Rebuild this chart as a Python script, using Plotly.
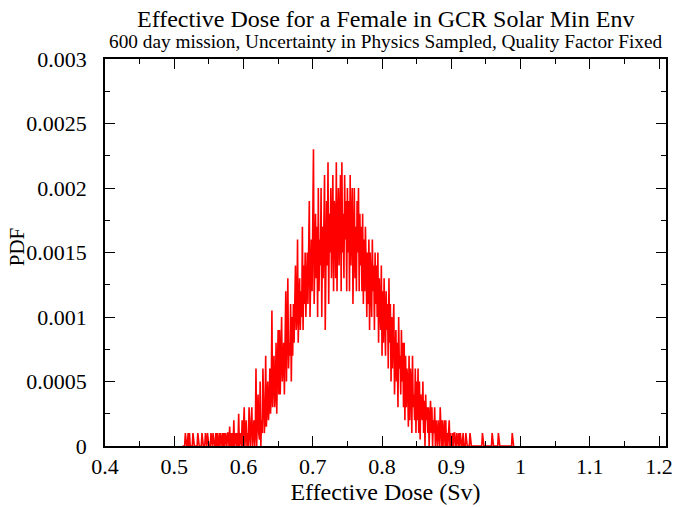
import plotly.graph_objects as go

# Bin centres (Sv), 0.001 Sv apart, and PDF values
dose = [round(0.512 + 0.001 * i, 3) for i in range(480)]
pdf = [
    # 0.512 - 0.531
    0, 0, 0, 0, 1e-4, 0, 0, 0, 1e-4, 0, 1e-4, 0, 0, 0, 0, 1e-4, 0, 0, 0, 0,
    # 0.532 - 0.551
    0, 0, 1e-4, 0, 0, 0, 0, 0, 1e-4, 0, 0, 0, 0, 1e-4, 0, 0, 1e-4, 0, 0, 0,
    # 0.552 - 0.571
    0, 1e-4, 0, 0, 1e-4, 0, 0, 0, 1e-4, 0, 1e-4, 0, 0, 1e-4, 0, 1e-4, 0, 0, 1e-4, 0,
    # 0.572 - 0.591
    1e-4, 0, 1e-4, 0, 0, 1e-4, 1e-4, 0, 1.5e-4, 0, 1e-4, 0, 1e-4, 0, 2e-4, 0, 1e-4, 1e-4, 0, 1e-4,
    # 0.592 - 0.611
    0, 2.5e-4, 0, 1e-4, 1e-4, 0, 2e-4, 0, 1e-4, 3e-4, 0, 1e-4, 2e-4, 0, 1e-4, 0, 3e-4, 1e-4, 0, 2e-4,
    # 0.612 - 0.631
    3e-4, 0, 1e-4, 2e-4, 0, 1e-4, 6e-4, 0, 2e-4, 4e-4, 1e-4, 0.5e-4, 5e-4, 0, 2e-4, 1e-4, 6e-4, 3e-4, 1e-4, 2e-4,
    # 0.632 - 0.651
    7e-4, 1.5e-4, 4e-4, 5e-4, 2e-4, 3e-4, 6e-4, 2.5e-4, 4e-4, 10.5e-4, 3e-4, 5e-4, 7e-4, 3e-4, 4e-4, 8e-4, 2.5e-4, 6e-4, 9e-4, 4e-4,
    # 0.652 - 0.671
    9e-4, 4e-4, 7e-4, 10e-4, 5e-4, 6e-4, 8e-4, 4e-4, 7e-4, 12e-4, 5e-4, 9e-4, 13e-4, 6e-4, 8e-4, 7e-4, 11e-4, 5e-4, 10e-4, 7e-4,
    # 0.672 - 0.691
    11e-4, 8e-4, 12e-4, 14e-4, 9e-4, 10e-4, 16e-4, 8e-4, 11e-4, 13e-4, 9e-4, 12e-4, 10e-4, 17e-4, 9e-4, 14e-4, 11e-4, 15e-4, 10e-4, 13e-4,
    # 0.692 - 0.711
    15e-4, 11e-4, 17e-4, 19e-4, 10e-4, 14e-4, 16e-4, 12e-4, 18e-4, 23e-4, 11e-4, 15e-4, 18e-4, 13e-4, 17e-4, 10e-4, 20e-4, 12e-4, 16e-4, 14e-4,
    # 0.712 - 0.731
    20e-4, 10e-4, 17e-4, 13e-4, 19e-4, 21e-4, 9e-4, 16e-4, 19e-4, 14e-4, 22e-4, 11e-4, 18e-4, 15e-4, 20e-4, 13e-4, 17e-4, 21e-4, 12e-4, 19e-4,
    # 0.732 - 0.751
    18e-4, 13e-4, 22e-4, 12e-4, 17e-4, 20e-4, 14e-4, 19e-4, 21e-4, 12e-4, 22e-4, 15e-4, 18e-4, 13e-4, 21e-4, 16e-4, 19e-4, 12e-4, 20e-4, 15e-4,
    # 0.752 - 0.771
    19e-4, 12e-4, 21e-4, 14e-4, 18e-4, 20e-4, 11e-4, 17e-4, 20e-4, 13e-4, 17e-4, 12e-4, 19e-4, 15e-4, 20e-4, 12e-4, 18e-4, 14e-4, 17e-4, 12e-4,
    # 0.772 - 0.791
    18e-4, 11e-4, 16e-4, 12e-4, 17e-4, 14e-4, 10e-4, 15e-4, 11e-4, 16e-4, 9e-4, 15e-4, 13e-4, 10e-4, 16e-4, 12e-4, 14e-4, 9e-4, 15e-4, 11e-4,
    # 0.792 - 0.811
    14e-4, 10e-4, 15e-4, 8e-4, 13e-4, 11e-4, 9e-4, 14e-4, 7e-4, 12e-4, 8e-4, 13e-4, 10e-4, 7e-4, 12e-4, 9e-4, 11e-4, 6e-4, 13e-4, 8e-4,
    # 0.812 - 0.831
    11e-4, 5e-4, 10e-4, 6e-4, 9e-4, 11e-4, 4e-4, 8e-4, 9e-4, 5e-4, 8e-4, 3e-4, 10e-4, 6e-4, 7e-4, 4e-4, 9e-4, 5e-4, 8e-4, 3e-4,
    # 0.832 - 0.851
    8e-4, 2e-4, 7e-4, 3e-4, 6e-4, 5e-4, 1.5e-4, 7e-4, 2e-4, 6e-4, 5e-4, 1e-4, 7e-4, 3e-4, 4e-4, 2e-4, 6e-4, 1e-4, 5e-4, 2e-4,
    # 0.852 - 0.871
    6e-4, 1e-4, 5e-4, 0.5e-4, 4e-4, 3e-4, 2e-4, 5e-4, 1e-4, 3.5e-4, 0, 4e-4, 2e-4, 3e-4, 1e-4, 3e-4, 0, 2e-4, 3.5e-4, 1e-4,
    # 0.872 - 0.891
    3e-4, 0, 2e-4, 1e-4, 3e-4, 0, 2e-4, 1e-4, 0, 2e-4, 1e-4, 0, 3e-4, 1e-4, 0, 2e-4, 0, 1e-4, 2e-4, 0,
    # 0.892 - 0.911
    2e-4, 0, 1e-4, 0, 1e-4, 2e-4, 0, 1e-4, 0, 0, 1e-4, 0, 1e-4, 1e-4, 0, 0, 1e-4, 0, 0, 1e-4,
    # 0.912 - 0.931
    0, 1e-4, 0, 0, 0, 1e-4, 0, 0, 0, 1e-4, 0, 0, 0, 0, 0, 1e-4, 0, 0, 0, 0,
    # 0.932 - 0.951
    0, 0, 0, 0, 0, 0, 0, 0, 0, 0, 0, 0, 0, 1e-4, 0, 0, 0, 0, 0, 0,
    # 0.952 - 0.971
    0, 0, 0, 0, 0, 0, 0, 1e-4, 0, 0, 0, 0, 0, 0, 0, 0, 1e-4, 0, 0, 0,
    # 0.972 - 0.991
    0, 0, 0, 0, 0, 0, 0, 0, 0, 0, 0, 0, 0, 0, 0, 0, 1e-4, 0, 0, 0,
]

x_tick_vals = [0.4, 0.5, 0.6, 0.7, 0.8, 0.9, 1.0, 1.1, 1.2]
x_tick_text = ["0.4", "0.5", "0.6", "0.7", "0.8", "0.9", "1", "1.1", "1.2"]
y_tick_vals = [0, 0.0005, 0.001, 0.0015, 0.002, 0.0025, 0.003]
y_tick_text = ["0", "0.0005", "0.001", "0.0015", "0.002", "0.0025", "0.003"]

title_text = "Effective Dose for a Female in GCR Solar Min Env"
subtitle_text = "600 day mission, Uncertainty in Physics Sampled, Quality Factor Fixed"
x_title = "Effective Dose (Sv)"
y_title = "PDF"

FONT = "Liberation Serif, Times New Roman, serif"

fig = go.Figure()
fig.add_trace(go.Scatter(
    x=dose, y=pdf, mode="lines",
    line=dict(color="#ff0000", width=1.6),
    showlegend=False, hoverinfo="skip",
))

axis_common = dict(
    showgrid=False, zeroline=False,
    showline=True, linecolor="black", linewidth=1.5,
    mirror="allticks", ticks="inside", ticklen=10, tickwidth=1, tickcolor="black",
    tickfont=dict(family=FONT, size=22, color="black"),
)

fig.update_layout(
    width=684, height=507,
    margin=dict(l=105, r=11, t=59, b=49),
    paper_bgcolor="white", plot_bgcolor="white",
    font=dict(family=FONT, color="black"),
    xaxis=dict(
        range=[0.4, 1.21], tickmode="array", tickvals=x_tick_vals, ticktext=x_tick_text,
        minor=dict(dtick=0.05, ticks="inside", ticklen=5, tickcolor="black", tickwidth=1),
        title=dict(text=x_title, font=dict(family=FONT, size=24), standoff=0),
        **axis_common,
    ),
    yaxis=dict(
        range=[0, 0.003], tickmode="array", tickvals=y_tick_vals, ticktext=y_tick_text,
        minor=dict(dtick=0.00025, ticks="inside", ticklen=5, tickcolor="black", tickwidth=1),
        ticklabelstandoff=12,
        **axis_common,
    ),
)

plot_w = 684 - 105 - 11
plot_h = 507 - 59 - 49
fig.add_annotation(text=title_text, x=0.5, y=1 + (59 - 18) / plot_h, xref="paper", yref="paper",
                   xanchor="center", yanchor="middle", showarrow=False,
                   font=dict(family=FONT, size=24, color="black"))
fig.add_annotation(text=subtitle_text, x=0.5, y=1 + (59 - 41) / plot_h, xref="paper", yref="paper",
                   xanchor="center", yanchor="middle", showarrow=False,
                   font=dict(family=FONT, size=19.3, color="black"))
fig.add_annotation(text=y_title, x=(16 - 105) / plot_w, y=1 - (253 - 59) / plot_h,
                   xref="paper", yref="paper", xanchor="center", yanchor="middle",
                   textangle=-90, showarrow=False,
                   font=dict(family=FONT, size=21, color="black"))

fig.write_html("out.html")
